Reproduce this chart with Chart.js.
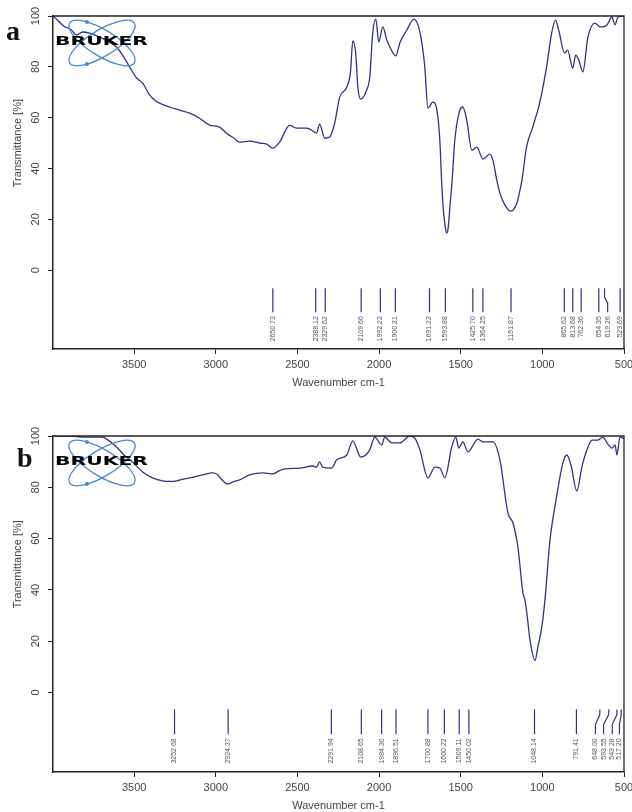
<!DOCTYPE html>
<html>
<head>
<meta charset="utf-8">
<script src="https://cdn.jsdelivr.net/npm/chart.js@4.4.1/dist/chart.umd.min.js"></script>
<style>
  html, body { margin: 0; padding: 0; background: #fff; }
  body { width: 632px; height: 812px; position: relative; overflow: hidden; }
  canvas { position: absolute; left: 0; }
  #spectrumA { top: 0; }
  #spectrumB { top: 400px; }
</style>
</head>
<body>
<canvas id="spectrumA" width="632" height="400"></canvas>
<canvas id="spectrumB" width="632" height="412"></canvas>
<script>
// axis ticks shared by both spectra
const xTicks = [3500, 3000, 2500, 2000, 1500, 1000, 500];
const yTicks = [0, 20, 40, 60, 80, 100];

// spectrum a
const wavenumbersA = [3997, 3970, 3930, 3884, 3853, 3816, 3773, 3740, 3712, 3660, 3608, 3565, 3528, 3485, 3448, 3405, 3375, 3344, 3283, 3222, 3160, 3099, 3038, 2977, 2935, 2890, 2854, 2793, 2731, 2688, 2652, 2609, 2548, 2505, 2486, 2444, 2425, 2383, 2364, 2333, 2302, 2272, 2241, 2198, 2175, 2161, 2143, 2130, 2112, 2076, 2057, 2039, 2020, 2002, 1977, 1953, 1934, 1897, 1873, 1830, 1787, 1750, 1720, 1701, 1671, 1646, 1628, 1617, 1608, 1592, 1585, 1578, 1566, 1553, 1536, 1505, 1487, 1463, 1432, 1401, 1364, 1322, 1303, 1279, 1260, 1229, 1193, 1156, 1137, 1125, 1097, 1059, 1017, 974, 943, 919, 900, 864, 845, 814, 796, 777, 752, 721, 678, 647, 604, 574, 555, 537, 506, 500];
const transmittanceA = [100, 98.4, 96, 94.5, 92.5, 93.7, 93.3, 92.5, 91.7, 90, 87.8, 84, 80, 75.6, 73.6, 68.9, 67, 65.7, 64.2, 63, 61.8, 59.8, 57.1, 56.3, 53.9, 52, 50.4, 50.8, 50, 49.6, 48, 50.4, 57, 55.9, 55.9, 55.9, 55.5, 54, 57.5, 51.9, 52.4, 57.9, 68.1, 72, 78, 90.2, 85.4, 72, 67.3, 70.9, 76, 93.3, 98.8, 89.8, 95.7, 90.6, 87.8, 84.3, 89.4, 94.5, 98.8, 93.7, 80, 63.8, 66.1, 63, 51.2, 35, 25, 16, 14.6, 16, 25, 35, 51.2, 63, 64.2, 59, 47.2, 48.4, 43.7, 45.7, 43.3, 35.4, 30.3, 25.6, 23.2, 26.4, 31.5, 35.4, 48.4, 56.3, 65.7, 80, 93.3, 98.4, 94.5, 85.4, 86.6, 79.5, 84.6, 82.7, 78, 91.7, 97.2, 95.7, 96.5, 99.6, 96.5, 99.6, 100, 100];
const peaksA = [2650.73, 2388.12, 2329.62, 2109.66, 1992.22, 1900.21, 1691.22, 1593.88, 1425.70, 1364.25, 1191.87, 865.62, 813.68, 762.36, 654.35, 619.26, 523.69];
const peakLabelAtA = [2650.73, 2388.12, 2329.62, 2109.66, 1992.22, 1900.21, 1691.22, 1593.88, 1425.70, 1364.25, 1191.87, 865.62, 813.68, 762.36, 654.35, 600, 523.69];

// spectrum b
const wavenumbersB = [3997, 3900, 3800, 3720, 3694, 3650, 3608, 3560, 3510, 3448, 3387, 3326, 3280, 3240, 3200, 3160, 3081, 3019, 2990, 2977, 2927, 2890, 2854, 2793, 2750, 2713, 2652, 2610, 2578, 2486, 2407, 2383, 2364, 2346, 2290, 2260, 2198, 2161, 2112, 2057, 2026, 1984, 1965, 1922, 1873, 1812, 1781, 1750, 1701, 1658, 1628, 1597, 1555, 1530, 1512, 1487, 1456, 1395, 1364, 1303, 1260, 1211, 1180, 1150, 1119, 1107, 1095, 1076, 1045, 1027, 1003, 984, 955, 913, 874, 850, 825, 789, 758, 727, 696, 660, 629, 604, 574, 555, 543, 525, 506, 500];
const transmittanceB = [100, 100, 99.6, 99.6, 99.6, 98, 95.7, 92.5, 89.9, 86, 83.7, 82.5, 82.3, 82.5, 83.2, 83.7, 84.8, 85.6, 85, 84, 81.3, 82.2, 82.9, 84.8, 85.4, 85.6, 85.2, 86.5, 87.2, 87.5, 88.3, 87.9, 89.9, 87.9, 87.5, 90.7, 92.6, 98.1, 91.8, 94.6, 99.6, 96.5, 99.6, 97.3, 97.3, 100, 99.2, 94.6, 83.7, 87.9, 87.5, 83.7, 95.7, 99.6, 95.3, 97.7, 93.8, 98.8, 97.7, 97.7, 90.7, 70, 66.1, 56.8, 38.9, 36.2, 31, 20.6, 12.5, 17.9, 25.7, 36.2, 58.4, 76.3, 89.5, 92.6, 88.7, 78.6, 87.9, 94.6, 98.4, 98.4, 99.6, 97.3, 95.3, 96.5, 92.6, 99.6, 99.2, 99];
const peaksB = [3252.68, 2924.37, 2291.94, 2108.65, 1984.30, 1896.51, 1700.88, 1600.22, 1509.11, 1450.02, 1048.14, 791.41, 648.00, 593.55, 543.28, 517.20];
const peakLabelAtB = [3252.68, 2924.37, 2291.94, 2108.65, 1984.30, 1896.51, 1700.88, 1600.22, 1509.11, 1450.02, 1048.14, 791.41, 675, 625, 572, 528];

const LINE = '#2f3382';
const TEXT = '#444';
const SANS = '"Liberation Sans", Arial, sans-serif';

// marker y levels: top, bend start, bend end, bottom
function peakDatasets(peaks, labelAt, levels) {
  return peaks.map((p, i) => ({
    data: [
      { x: p, y: levels[0] },
      { x: p, y: levels[1] },
      { x: labelAt[i], y: levels[2] },
      { x: labelAt[i], y: levels[3] },
    ],
    borderColor: LINE,
    borderWidth: 1.2,
    pointRadius: 0,
    tension: 0,
  }));
}

const decor = {
  id: 'decor',
  afterDraw(chart, args, o) {
    const { ctx, chartArea: a, scales: { x, y } } = chart;
    ctx.save();

    // frame top + right
    ctx.strokeStyle = '#222';
    ctx.lineWidth = 1.3;
    ctx.beginPath();
    ctx.moveTo(a.left, a.top);
    ctx.lineTo(a.right, a.top);
    ctx.lineTo(a.right, a.bottom);
    ctx.stroke();

    ctx.fillStyle = TEXT;
    // y tick labels, rotated
    ctx.font = '11px ' + SANS;
    ctx.textAlign = 'center';
    ctx.textBaseline = 'middle';
    yTicks.forEach(v => {
      ctx.save();
      ctx.translate(36, y.getPixelForValue(v));
      ctx.rotate(-Math.PI / 2);
      ctx.fillText(String(v), 0, 0);
      ctx.restore();
    });

    // y title
    ctx.save();
    ctx.translate(18, (y.getPixelForValue(0) + y.getPixelForValue(100)) / 2);
    ctx.rotate(-Math.PI / 2);
    ctx.fillText('Transmittance [%]', 0, 0);
    ctx.restore();

    // x title
    ctx.fillText('Wavenumber cm-1', (a.left + a.right) / 2, a.bottom + 34);

    // peak labels
    ctx.font = '7px ' + SANS;
    ctx.textAlign = 'right';
    ctx.fillStyle = '#555';
    const yTop = y.getPixelForValue(o.labelLevel) + 4;
    o.peaks.forEach((p, i) => {
      ctx.save();
      ctx.translate(x.getPixelForValue(o.labelAt[i]), yTop);
      ctx.rotate(-Math.PI / 2);
      ctx.fillText(p.toFixed(2), 0, 0);
      ctx.restore();
    });

    // panel letter
    ctx.fillStyle = '#111';
    ctx.textAlign = 'left';
    ctx.textBaseline = 'alphabetic';
    ctx.font = 'bold 28px "Liberation Serif", "Times New Roman", serif';
    ctx.fillText(o.letter, o.letterX, o.letterY);

    // BRUKER logo
    const cx = a.left + 49, cy = a.top + 27;
    ctx.strokeStyle = '#4a88cf';
    ctx.fillStyle = '#4a88cf';
    ctx.lineWidth = 1.3;
    [0.55, -0.55].forEach(r => {
      ctx.beginPath();
      ctx.ellipse(cx, cy, 38, 13, r, 0, Math.PI * 2);
      ctx.stroke();
    });
    [[cx - 15, cy - 21], [cx - 15, cy + 21], [cx + 4, cy - 4]].forEach(([ex, ey]) => {
      ctx.beginPath();
      ctx.arc(ex, ey, 2, 0, Math.PI * 2);
      ctx.fill();
    });
    ctx.fillStyle = '#000';
    ctx.font = 'bold 13px "DejaVu Sans", sans-serif';
    ctx.textAlign = 'center';
    ctx.textBaseline = 'middle';
    const w = ctx.measureText('BRUKER').width;
    ctx.save();
    ctx.translate(cx - 0.5, cy - 1.5);
    ctx.scale(93 / w, 1);
    ctx.fillText('BRUKER', 0, 0);
    ctx.restore();

    ctx.restore();
  }
};

function makeChart(id, wn, tr, peaks, labelAt, levels, cfg) {
  const spectrum = {
    data: wn.map((v, i) => ({ x: v, y: tr[i] })),
    borderColor: LINE,
    borderWidth: 1.3,
    pointRadius: 0,
    cubicInterpolationMode: 'monotone',
  };
  return new Chart(document.getElementById(id), {
    type: 'line',
    data: { datasets: [spectrum, ...peakDatasets(peaks, labelAt, levels)] },
    options: {
      responsive: false,
      animation: false,
      layout: { padding: { top: cfg.padTop, right: 8, left: 0, bottom: 0 } },
      scales: {
        x: {
          type: 'linear',
          reverse: true,
          min: 500,
          max: 3997,
          afterBuildTicks: s => { s.ticks = xTicks.map(v => ({ value: v })); },
          afterFit: s => { s.height = cfg.xHeight; s.paddingLeft = 0; s.paddingRight = 0; },
          ticks: { autoSkip: false, maxRotation: 0, padding: 4, color: TEXT, font: { family: SANS, size: 11 }, callback: v => String(v) },
          grid: { drawOnChartArea: false, drawTicks: true, tickLength: 5, color: '#222' },
          border: { display: true, color: '#222', width: 1.5 },
        },
        y: {
          min: -31,
          max: 100,
          afterBuildTicks: s => { s.ticks = yTicks.map(v => ({ value: v })); },
          afterFit: s => { s.width = 53; s.paddingTop = 0; s.paddingBottom = 0; },
          ticks: { display: false },
          grid: { drawOnChartArea: false, drawTicks: true, tickLength: 5, color: '#222' },
          border: { display: true, color: '#222', width: 1.5 },
        },
      },
      plugins: {
        legend: { display: false },
        tooltip: { enabled: false },
        decor: {
          peaks, labelAt,
          labelLevel: levels[3],
          letter: cfg.letter, letterX: cfg.letterX, letterY: cfg.letterY,
        },
      },
    },
    plugins: [decor],
  });
}

makeChart('spectrumA', wavenumbersA, transmittanceA, peaksA, peakLabelAtA, [-7.1, -10.6, -13.0, -16.5],
  { padTop: 16, xHeight: 51, letter: 'a', letterX: 6, letterY: 40 });
makeChart('spectrumB', wavenumbersB, transmittanceB, peaksB, peakLabelAtB, [-6.6, -8.6, -12.5, -16.3],
  { padTop: 36, xHeight: 40, letter: 'b', letterX: 17, letterY: 67 });
</script>
</body>
</html>
